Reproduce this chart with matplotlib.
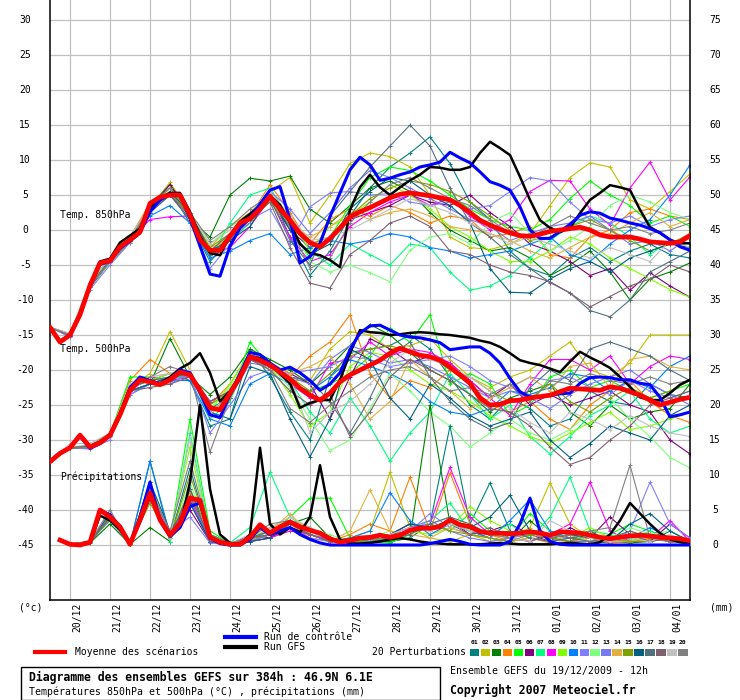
import matplotlib
matplotlib.use("Agg")
import matplotlib.pyplot as plt
from matplotlib.patches import Rectangle
from matplotlib.lines import Line2D
from matplotlib.transforms import blended_transform_factory as btf

# ---------------- data ----------------
hours6 = list(range(0, 385, 6))      # 65 steps
hours12 = list(range(0, 385, 12))    # 33 steps
prec_hours6 = hours6[1:]
prec_hours12 = hours12[1:]

dates = ["20/12", "21/12", "22/12", "23/12", "24/12", "25/12", "26/12", "27/12",
         "28/12", "29/12", "30/12", "31/12", "01/01", "02/01", "03/01", "04/01"]
date_hours = [12 + 24 * k for k in range(16)]

left_ticks = [30, 25, 20, 15, 10, 5, 0, -5, -10, -15, -20, -25, -30, -35, -40, -45]
right_ticks = [75, 70, 65, 60, 55, 50, 45, 40, 35, 30, 25, 20, 15, 10, 5, 0]

t850_mean = [-13.9, -16, -15, -12.1, -7.9, -4.7, -4.4, -2.4, -1.4, -0.3,
             3.8, 4.7, 5.0, 5.0, 2.1, -1.4, -2.9, -2.9, -0.9, 1.0,
             1.6, 3.0, 4.8, 3.0, 1.4, -0.5, -1.8, -2.4, -1.2, 0.3,
             1.9, 2.6, 3.2, 3.9, 4.6, 5.1, 5.3, 5.1, 4.9, 4.6,
             4.3, 3.5, 2.5, 1.4, 0.7, 0.1, -0.4, -0.8, -0.9, -0.6,
             -0.2, 0.0, 0.2, 0.4, 0.0, -0.7, -1.0, -1.0, -1.0, -1.3,
             -1.7, -1.8, -1.9, -1.7, -0.8]
t850_ctrl = [-13.9, -16, -15, -12, -8, -4.9, -4.5, -2.6, -1.6, -0.4,
             2.6, 4.3, 5.1, 5.0, 1.7, -2.3, -6.3, -6.6, -2.3, 0.3,
             1.7, 3.7, 5.7, 6.2, 1.5, -4.7, -3.8, -1.9, 1.9, 5.3,
             8.6, 10.4, 9.3, 7.1, 7.4, 7.9, 8.3, 9.0, 9.3, 9.7,
             11.1, 10.3, 9.6, 8.3, 6.9, 6.4, 5.7, 3.3, 0.0, -1.2,
             -1.2, -0.2, 0.8, 2.1, 2.6, 2.4, 1.7, 1.4, 1.0, 0.7,
             0.2, -0.4, -1.4, -2.4, -2.9]
t850_gfs = [-13.9, -16, -15, -12, -7.8, -4.5, -4.1, -1.8, -0.8, 0.2,
            3.1, 4.6, 5.3, 5.3, 2.6, -0.9, -3.3, -3.6, -0.8, 1.2,
            2.3, 3.5, 4.9, 3.6, 1.0, -2.0, -3.3, -3.6, -4.3, -5.3,
            2.9, 6.1, 7.9, 6.1, 5.0, 6.1, 7.1, 7.9, 9.0, 8.9,
            8.6, 8.6, 9.0, 11.0, 12.6, 11.7, 10.7, 7.6, 4.3, 1.4,
            0.3, -0.3, 0.3, 2.4, 4.3, 5.3, 6.4, 6.1, 5.7, 2.9,
            0.4, -0.4, -1.4, -1.9, -1.9]

t500_mean = [-33.1, -31.9, -31.1, -29.3, -31, -30.4, -29.3, -26.4, -22.9, -21.4,
             -21.7, -22.1, -21.4, -20.3, -20.7, -22.9, -25.4, -25.7, -23.3, -21,
             -18.1, -18.6, -19.3, -20.3, -21.3, -22.6, -23.6, -24.3, -23.3, -21.7,
             -20.7, -20, -19.3, -18.6, -17.6, -16.9, -17.4, -17.9, -18.1, -18.6,
             -19.6, -20.7, -21.9, -24, -25, -24.9, -24.4, -24.3, -24, -23.8,
             -23.6, -23.1, -22.6, -22.7, -22.8, -22.9, -22.4, -22.6, -23.1, -23.6,
             -24.3, -25, -24.6, -24.2, -23.9]
t500_ctrl = [-33.1, -31.9, -31.1, -29.5, -31.2, -30.5, -29.4, -26.3, -22.5, -21,
             -21.5, -22, -21.3, -20, -20.4, -23.2, -26.4, -26.8, -23.5, -20.5,
             -17.5, -17.8, -19, -20, -19.6, -20.4, -21.5, -22.9, -22, -20.4,
             -17.1, -14.7, -13.7, -13.6, -14.3, -15, -15.3, -15.4, -15.7, -16.1,
             -17.1, -16.9, -16.7, -16.7, -17.6, -19, -21.2, -23.1, -23.9, -23.8,
             -23.6, -23.4, -23.3, -21.9, -21.1, -21, -21.1, -21.4, -21.4, -21.9,
             -22.1, -23.9, -26.7, -26.4, -26]
t500_gfs = [-33.1, -31.9, -31.1, -29.3, -30.9, -30.3, -29.2, -26.2, -22.7, -21.2,
            -21.5, -21.9, -21, -19.8, -19, -17.6, -20.4, -24.5, -23, -20.8,
            -18, -18.3, -19.2, -20.5, -21.9, -25.4, -24.7, -24.3, -24.3, -21.4,
            -17.6, -14.3, -14.6, -14.7, -15, -14.9, -14.7, -14.6, -14.7, -14.9,
            -15, -15.2, -15.4, -15.8, -16.1, -16.7, -17.6, -18.6, -19, -19.3,
            -19.8, -20.3, -18.8, -17.4, -18.2, -18.9, -19.7, -21, -22.4, -23.9,
            -24.3, -24.3, -23.3, -22.1, -21.4]

prec_mean = [0.7, 0.1, 0, 0.4, 5, 4, 2.6, 0.1, 3.6, 7.4,
             3.6, 1.4, 3.1, 6.7, 6.4, 1.1, 0.4, 0.1, 0.1, 1.1,
             2.9, 1.7, 2.6, 3.3, 2.6, 2.1, 1.7, 0.9, 0.4, 0.7,
             1, 1.1, 1.4, 1.1, 1.4, 2.1, 2.4, 2.4, 2.6, 3.6,
             2.9, 2.6, 1.9, 1.7, 1.7, 1.6, 1.7, 1.9, 1.7, 1.4,
             1.9, 1.8, 1.7, 1.4, 1.1, 0.9, 1.1, 1.3, 1.4, 1.3,
             1.1, 1.0, 0.9, 0.6]
prec_gfs = [0.7, 0.1, 0, 0.3, 4.2, 3.5, 2.2, 0.1, 3.3, 7,
            3.8, 1.6, 2.5, 9, 20, 8, 1.5, 0.3, 0, 1.5,
            13.9, 3, 1.5, 2.5, 1.8, 4, 11.4, 4, 0.8, 0.2,
            0.2, 0.3, 0.5, 0.8, 1, 0.8, 0.5, 0.3, 0.2, 0.1,
            0.1, 0.1, 0.1, 0.2, 0.3, 0.2, 0.1, 0.1, 0.1, 0.1,
            0.2, 0.3, 0.2, 0.1, 0.4, 1.5, 3.5, 6, 4.5, 3,
            1.7, 0.8, 0.4, 0.2]
prec_ctrl = [0.7, 0.1, 0, 0.3, 5, 4.3, 2.5, 0.1, 4, 9,
             3.5, 1.2, 2.5, 5.5, 6, 1, 0.2, 0, 0, 0.8,
             2.5, 1.5, 2, 2.5, 1.5, 0.8, 0.3, 0, 0, 0,
             0, 0, 0, 0, 0, 0, 0, 0.2, 0.5, 0.8,
             0.5, 0.1, 0, 0, 0, 0.5, 3, 6.7, 2, 0.5,
             0.1, 0, 0, 0, 0, 0, 0, 0, 0, 0,
             0, 0, 0, 0]

pert_colors = ["#008080", "#c0c000", "#008000", "#ff8000", "#00ff00", "#800080",
               "#00ff80", "#ff00ff", "#80ff00", "#0080ff", "#8080ff", "#80ff80",
               "#7878f0", "#e0b040", "#80a000", "#006080", "#507080", "#806070",
               "#c0c0c0", "#808080"]

pert_850 = [
    [-13.9,-15.2,-8.2,-4.6,-1.8,2.5,5.5,1.0,-4.5,-1.5,2.0,5.5,-1.0,-6.5,-3.0,2.0,6.0,9.0,11.0,13.3,9.5,4.0,1.5,-3.0,-5.5,-6.5,-4.0,-2.5,-4.5,-3.0,-2.0,-3.5,-4.0],
    [-13.9,-15,-7.7,-4.2,-1.2,3.2,6.8,2.5,-2.5,0.5,2.5,5.5,7.5,1.0,5.0,9.5,11.0,10.5,9.0,5.0,-1.0,-2.5,-2.8,-2.0,-0.5,3.5,7.5,9.6,9.0,4.3,3.0,5.5,8.0],
    [-13.9,-15,-7.5,-4.0,-1.0,3.5,6.5,1.5,-1.0,5.0,7.4,7.0,7.7,3.0,1.0,3.5,6.0,7.0,5.5,2.5,0.0,-1.5,-3.0,-2.5,-4.0,-6.5,-5.0,-3.0,-6.0,-10.0,-7.0,-6.0,-4.7],
    [-13.9,-14.8,-7.6,-4.3,-1.0,3.8,6.0,2.5,-3.5,-0.5,2.0,6.5,2.5,-2.0,1.5,3.0,2.0,3.5,2.5,1.0,2.0,1.5,-1.0,-0.5,0.5,-3.5,-4.0,-1.0,0.0,2.5,3.0,2.0,1.5],
    [-13.9,-15,-8.0,-4.5,-1.6,2.8,5.5,2.0,-3.0,-1.5,1.0,4.5,0.5,-4.0,-1.0,3.5,7.5,9.0,8.5,7.0,5.0,3.0,1.5,0.5,0.0,1.5,4.5,7.0,5.0,3.5,1.0,2.0,0.5],
    [-13.9,-15.1,-8.1,-4.5,-1.3,3.0,6.5,2.5,-3.0,-1.0,1.5,4.5,0.0,-2.5,-1.5,1.5,2.5,3.5,5.0,4.0,3.5,5.0,2.5,0.5,-2.0,-3.0,-4.5,-6.5,-5.5,-8.6,-6.1,-8.0,-9.6],
    [-13.9,-15,-7.8,-4.3,-1.5,2.6,5.0,1.5,-4.0,1.0,5.0,6.0,1.5,-3.0,-5.0,-2.0,-3.5,-5.0,-2.0,-2.5,-6.0,-8.6,-8.0,-6.5,-4.0,-1.5,0.5,2.0,1.0,-1.0,-3.5,-1.5,-2.0],
    [-13.9,-15,-7.9,-4.4,-1.4,1.5,1.9,2.0,-3.5,-2.5,0.5,4.5,-1.0,-4.5,-3.5,0.5,2.5,4.0,5.0,3.5,4.5,2.0,0.0,1.5,5.5,7.1,7.0,3.0,0.7,6.0,9.7,4.3,7.6],
    [-13.9,-15,-8.0,-4.6,-1.7,3.0,6.0,2.0,-3.5,-0.5,2.5,5.0,2.0,-3.0,0.5,2.0,4.0,6.5,5.0,3.0,0.5,-1.0,-3.0,-4.5,-4.5,-3.0,-1.0,-2.0,-4.0,-5.5,-7.0,-8.5,-9.6],
    [-13.9,-15,-7.9,-4.4,-1.5,2.0,3.5,1.0,-4.0,-3.0,-1.5,-0.5,-3.5,-2.5,-1.5,-2.0,-1.5,-0.5,-1.0,-2.5,-3.0,-4.0,-3.5,-3.0,-2.0,-1.0,-3.5,-4.5,-2.0,0.0,1.5,5.0,9.3],
    [-13.9,-15.3,-8.5,-5.0,-1.8,2.5,5.0,1.5,-5.5,-2.0,1.5,3.0,-2.0,3.3,5.3,5.5,5.0,5.2,4.0,3.5,4.0,3.0,3.5,5.5,7.5,7.0,4.0,1.5,1.0,2.0,0.5,1.5,2.0],
    [-13.9,-15,-7.8,-4.3,-1.4,3.2,5.5,2.3,-2.0,0.5,2.0,4.0,1.0,-4.5,-6.0,-5.0,-6.1,-7.4,-2.9,-1.0,-0.5,-2.0,1.0,2.5,-0.5,-3.0,-1.5,0.5,3.5,5.0,4.0,2.5,1.5],
    [-13.9,-15,-7.9,-4.5,-1.5,3.0,5.0,2.5,-3.5,-1.0,1.0,5.5,3.0,-0.5,2.5,6.0,8.5,7.5,6.0,4.5,3.0,1.5,0.5,-1.5,-0.5,0.5,1.0,2.0,0.0,-2.0,-1.5,-3.0,-1.0],
    [-13.9,-14.9,-7.8,-4.2,-1.2,3.5,5.5,2.0,-2.5,-1.5,1.5,4.5,1.0,-1.0,0.5,2.5,1.5,2.5,3.0,2.0,0.5,0.0,-0.5,-1.5,-3.0,-4.0,-2.5,-1.0,-0.5,1.0,2.5,0.5,1.5],
    [-13.9,-15,-8.0,-4.4,-1.3,3.0,5.5,2.0,-2.5,-0.5,1.5,4.0,0.5,-2.0,-1.0,2.0,4.5,6.0,7.0,6.5,5.5,4.0,2.0,0.0,-1.5,-1.0,0.5,1.5,0.0,-1.5,-3.0,-2.0,-0.5],
    [-13.9,-15,-7.9,-4.3,-1.3,3.0,5.5,2.5,-3.0,-1.5,0.5,5.0,0.0,-3.5,-2.0,3.0,5.5,7.5,7.0,5.0,3.5,1.0,-5.5,-8.9,-9.0,-7.0,-5.5,-4.5,-6.0,-4.0,-3.0,-2.0,-2.5],
    [-13.9,-15,-7.9,-4.4,-1.5,2.5,5.0,1.5,-3.5,-1.0,2.0,4.5,-1.5,-5.0,2.0,5.5,9.0,12.0,15.0,12.0,6.0,1.0,-1.0,-3.5,-5.5,-7.5,-9.0,-11.5,-12.4,-10.0,-6.0,-4.5,-3.0],
    [-13.9,-15,-7.9,-4.4,-1.4,3.0,5.0,2.0,-3.0,-0.5,1.5,4.0,-2.5,-7.6,-8.3,-3.5,-1.5,1.0,2.0,0.5,-3.0,-3.5,-5.0,-6.0,-6.5,-7.4,-9.0,-11.0,-9.5,-8.0,-7.0,-5.0,-6.0],
    [-13.9,-14.8,-7.5,-4.0,-1.0,3.5,6.0,2.5,-2.0,0.0,2.5,5.5,2.0,-1.5,-1.0,0.0,1.5,3.0,4.5,3.5,2.5,1.0,-0.5,-2.0,-1.0,-2.0,-3.0,-4.0,-2.5,-3.5,-4.5,-1.5,-2.5],
    [-13.9,-15,-7.9,-4.5,-1.6,3.5,6.0,2.5,-1.5,0.5,3.0,5.0,0.5,-5.5,-4.0,1.0,4.0,6.5,7.5,6.0,4.5,3.5,1.5,-0.5,-1.0,0.5,2.0,1.0,0.0,0.5,-0.5,0.0,1.0],
]

pert_500 = [
    [-33.1,-31.0,-30.8,-29.0,-22.5,-21.5,-20.5,-21.5,-28.0,-27.0,-17.0,-21.0,-26.0,-30.0,-21.0,-17.5,-17.0,-16.5,-15.0,-17.0,-21.0,-25.0,-27.0,-24.0,-25.5,-28.0,-27.0,-23.0,-24.5,-25.0,-22.0,-23.5,-24.0],
    [-33.1,-31.2,-31.0,-29.5,-22.5,-20.5,-14.5,-20.0,-26.0,-24.0,-18.5,-20.0,-21.5,-21.5,-17.0,-14.5,-15.0,-17.0,-16.5,-15.5,-18.5,-21.0,-22.5,-21.0,-20.0,-18.0,-16.0,-20.0,-21.0,-19.0,-15.0,-15.0,-15.0],
    [-33.1,-31.1,-31.2,-29.3,-23.0,-22.0,-15.5,-21.0,-23.5,-21.0,-17.0,-18.5,-20.0,-22.0,-19.5,-16.5,-13.5,-15.0,-17.5,-20.0,-21.5,-23.5,-26.0,-24.0,-23.0,-22.0,-26.0,-28.0,-25.0,-27.0,-26.0,-25.5,-22.0],
    [-33.1,-31.0,-30.9,-29.1,-21.5,-18.5,-20.5,-21.0,-25.0,-22.0,-17.5,-19.0,-21.0,-18.0,-16.0,-12.1,-20.5,-24.0,-21.5,-22.5,-20.0,-22.0,-25.0,-26.0,-24.5,-27.0,-28.5,-25.0,-23.0,-21.5,-24.5,-26.5,-27.5],
    [-33.1,-31.1,-31.0,-29.2,-21.0,-21.0,-21.5,-20.5,-25.5,-24.0,-16.0,-19.5,-22.0,-23.0,-22.0,-20.5,-18.0,-14.0,-16.0,-12.1,-22.0,-20.5,-22.0,-26.5,-25.0,-21.0,-20.0,-22.5,-21.5,-23.0,-24.0,-23.0,-22.0],
    [-33.1,-31.2,-31.1,-29.3,-23.0,-22.0,-21.0,-20.5,-24.5,-23.0,-18.5,-19.0,-20.5,-22.0,-27.0,-21.0,-15.5,-17.0,-19.0,-18.0,-19.0,-21.5,-24.0,-22.0,-25.0,-23.5,-25.0,-24.0,-23.0,-25.0,-26.0,-30.0,-32.0],
    [-33.1,-31.1,-31.0,-29.4,-23.0,-22.0,-21.5,-20.5,-27.0,-24.5,-17.5,-19.5,-21.5,-26.0,-29.0,-24.0,-28.0,-33.0,-29.0,-26.0,-20.5,-23.5,-27.0,-25.0,-29.5,-32.0,-29.5,-26.5,-25.0,-23.0,-27.0,-29.0,-28.0],
    [-33.1,-31.0,-31.0,-29.4,-23.0,-21.0,-21.5,-21.0,-24.5,-23.0,-18.5,-19.5,-22.0,-24.0,-19.0,-18.5,-16.0,-18.0,-17.0,-17.5,-19.0,-21.5,-24.0,-26.5,-22.0,-18.5,-18.5,-20.0,-18.0,-22.0,-19.5,-18.0,-18.5],
    [-33.1,-31.1,-31.1,-29.2,-22.5,-21.5,-20.5,-20.5,-26.0,-22.0,-17.5,-19.5,-23.5,-28.0,-26.0,-19.5,-17.5,-18.0,-20.0,-22.0,-23.0,-24.5,-26.5,-28.0,-29.5,-30.5,-29.0,-27.5,-26.0,-28.5,-28.0,-27.0,-26.0],
    [-33.1,-31.1,-31.0,-29.3,-23.5,-22.0,-21.5,-21.5,-27.0,-28.0,-22.0,-20.5,-22.0,-23.0,-21.0,-18.5,-19.5,-20.5,-22.0,-24.5,-26.0,-26.5,-25.5,-23.0,-23.5,-22.5,-20.5,-21.0,-23.0,-21.5,-22.5,-19.5,-18.0],
    [-33.1,-31.1,-31.3,-30.0,-23.5,-22.0,-22.0,-20.5,-29.0,-25.0,-21.0,-20.0,-20.5,-20.0,-19.5,-18.0,-18.5,-19.5,-19.0,-18.5,-18.0,-19.5,-21.5,-22.5,-21.0,-21.5,-21.0,-22.5,-23.5,-21.5,-23.0,-24.0,-23.0],
    [-33.1,-31.1,-31.0,-29.3,-22.0,-21.5,-21.0,-20.5,-25.5,-22.5,-17.5,-19.5,-22.5,-27.0,-31.5,-30.0,-25.5,-20.5,-23.0,-26.0,-28.0,-31.0,-29.0,-27.0,-29.0,-30.0,-28.5,-26.0,-24.0,-27.0,-29.5,-32.5,-34.0],
    [-33.1,-31.1,-31.0,-29.3,-23.0,-22.0,-21.0,-21.0,-26.0,-24.0,-19.0,-19.5,-21.0,-22.0,-18.5,-16.5,-17.5,-19.0,-18.5,-19.5,-21.0,-22.5,-24.0,-23.0,-24.0,-25.5,-23.5,-22.0,-21.0,-20.0,-22.0,-23.5,-25.0],
    [-33.1,-31.0,-30.9,-29.2,-22.5,-21.0,-20.5,-20.0,-26.5,-23.5,-18.0,-19.0,-20.5,-19.5,-18.0,-22.0,-27.0,-24.5,-18.5,-21.0,-23.0,-25.5,-24.0,-22.5,-21.0,-23.0,-19.5,-19.0,-22.5,-18.5,-18.0,-19.5,-20.0],
    [-33.1,-31.1,-31.0,-29.3,-22.5,-21.5,-21.0,-20.5,-25.0,-23.0,-18.0,-19.0,-21.0,-23.0,-20.5,-18.0,-17.0,-16.5,-17.5,-18.0,-20.0,-21.0,-23.0,-24.5,-24.0,-22.0,-24.5,-26.0,-24.0,-22.5,-24.0,-23.0,-21.5],
    [-33.1,-31.1,-31.0,-29.3,-23.0,-22.0,-21.0,-20.5,-26.0,-27.0,-19.5,-20.5,-27.0,-32.4,-27.0,-17.0,-18.5,-24.0,-27.0,-22.0,-24.0,-26.5,-28.0,-27.0,-26.0,-30.0,-32.5,-30.5,-28.0,-29.0,-30.0,-26.5,-25.0],
    [-33.1,-31.1,-31.0,-29.3,-22.5,-21.5,-21.0,-20.5,-25.5,-24.0,-18.5,-19.5,-21.0,-21.5,-24.5,-29.0,-24.0,-18.0,-16.0,-21.0,-24.5,-27.0,-28.5,-27.5,-22.5,-20.0,-21.5,-17.0,-16.0,-17.0,-18.0,-20.0,-21.5],
    [-33.1,-31.1,-31.0,-29.3,-23.0,-22.5,-22.0,-21.0,-24.5,-23.0,-18.5,-20.0,-23.0,-25.0,-23.5,-29.5,-26.0,-21.0,-18.5,-20.0,-21.5,-23.5,-25.5,-26.0,-28.0,-31.0,-33.5,-32.5,-30.0,-28.0,-25.0,-24.0,-23.0],
    [-33.1,-30.5,-30.5,-29.0,-22.0,-21.0,-20.5,-20.0,-26.0,-23.5,-17.5,-19.0,-21.0,-29.0,-26.0,-24.5,-22.0,-19.0,-17.0,-18.5,-19.5,-21.0,-23.0,-25.5,-27.5,-29.0,-26.0,-27.0,-28.5,-26.5,-28.0,-29.0,-29.5],
    [-33.1,-31.2,-31.0,-29.3,-22.5,-21.0,-19.5,-20.5,-31.7,-24.0,-18.0,-20.0,-25.5,-27.5,-25.0,-23.0,-21.0,-20.0,-19.5,-21.0,-23.0,-22.5,-23.5,-22.0,-24.5,-21.5,-22.0,-20.5,-21.5,-22.0,-21.0,-22.0,-21.5],
]

pert_prec = [
    [0.1,0.5,4.0,0.1,12.0,1.0,11.0,1.0,0,0.5,1.5,3.0,1.5,0.5,0.3,0.8,0.5,1.0,3.0,17.0,3.0,8.9,2.0,1.0,0.5,1.5,0.5,0.3,1.0,0.5,2.0,0.5],
    [0.1,0.4,4.2,0.1,7.0,1.5,6.0,0.5,0,1.0,2.0,3.5,2.5,0.5,1.0,2.0,10.4,2.5,1.0,0.5,1.5,0.5,1.0,2.5,8.9,3.0,1.0,0.5,2.0,1.0,0.5,0.3],
    [0.1,0.3,3.0,0.1,2.5,0.5,8.0,1.5,0.2,0.5,1.0,3.0,4.0,1.0,0.5,0.3,0.5,1.0,20.0,3.0,2.0,1.0,0.5,3.5,1.0,0.5,2.0,0.5,0.3,0.5,1.0,0.5],
    [0.1,0.4,4.5,0.1,6.5,2.0,7.5,1.0,0,0.8,2.5,3.0,1.0,0.5,1.5,3.0,2.0,9.7,2.0,10.3,3.0,1.5,0.5,1.0,0.3,0.5,1.0,0.3,0.5,0.8,0.5,0.3],
    [0.1,0.5,3.5,0.1,8.0,1.0,18.0,2.0,0.2,1.0,1.5,4.0,6.7,6.7,1.0,0.5,0.3,1.5,3.0,2.0,4.5,2.0,1.0,4.5,2.0,1.0,0.5,1.5,3.0,2.0,1.0,0.5],
    [0.1,0.4,4.0,0.1,7.5,1.5,5.0,0.5,0,1.5,1.0,2.5,1.5,0.5,0.5,1.0,1.5,3.0,2.5,3.5,1.5,2.0,3.0,1.5,0.5,2.5,1.0,4.0,1.5,0.5,3.0,1.0],
    [0.1,0.3,4.5,0.1,9.0,0.5,16.0,1.5,0.3,2.5,10.4,4.0,2.0,0.5,1.0,0.5,1.0,2.0,3.5,6.0,2.0,1.5,3.0,1.0,4.0,9.7,2.0,1.5,0.8,2.0,1.0,0.4],
    [0.1,0.4,3.8,0.1,7.0,1.0,6.5,0.5,0.1,0.5,1.0,2.0,1.5,0.8,0.5,1.0,1.5,2.5,3.0,11.1,4.0,1.5,1.0,0.5,1.5,3.0,9.0,2.0,0.5,1.0,3.5,0.5],
    [0.1,0.5,4.2,0.1,8.5,1.5,14.0,1.0,0.1,1.0,2.0,3.0,2.0,1.0,0.5,0.8,1.0,2.0,1.5,2.5,5.5,3.5,2.0,1.0,0.5,1.0,2.5,1.0,0.5,1.5,0.5,0.3],
    [0.1,0.4,4.5,0.1,12.0,1.5,7.0,0.5,0,0.8,2.0,3.0,2.5,0.5,1.0,2.0,7.5,3.5,1.5,3.0,2.0,1.0,3.5,6.5,2.0,1.0,1.5,0.5,1.0,2.5,1.0,0.3],
    [0.1,0.6,3.5,0.1,6.5,2.0,4.0,0.3,0,0.5,1.5,2.5,1.0,0.5,0.5,0.8,1.0,2.0,4.5,2.5,1.5,1.0,0.5,1.0,0.5,1.0,1.5,0.5,2.0,9.0,3.0,1.0],
    [0.1,0.4,4.0,0.1,7.0,1.0,9.0,1.0,0.1,1.0,2.5,3.5,2.0,1.5,0.5,1.0,2.0,1.5,3.0,4.0,2.0,1.5,1.0,2.0,1.0,1.5,0.5,1.0,2.5,1.5,2.0,0.5],
    [0.1,0.5,4.0,0.1,8.0,1.5,6.0,0.5,0,0.5,1.5,2.5,1.5,0.5,0.5,1.0,1.5,2.5,3.5,2.0,1.0,0.5,1.0,1.5,1.0,0.5,0.5,1.0,1.5,1.0,0.5,0.3],
    [0.1,0.4,4.5,0.1,7.0,1.5,7.0,1.0,0.1,1.0,2.0,4.5,1.5,0.5,2.0,7.9,2.0,1.5,1.0,2.5,1.5,1.0,0.5,1.0,0.5,1.5,1.0,0.5,0.5,1.0,0.5,0.3],
    [0.1,0.4,3.8,0.1,6.0,1.0,10.0,1.5,0.2,0.8,1.5,3.0,2.5,1.0,0.5,0.5,1.0,2.0,3.0,2.0,1.5,1.0,0.5,1.5,1.0,0.5,1.5,1.0,0.5,0.5,1.0,0.5],
    [0.1,0.5,4.5,0.1,9.0,2.0,6.0,0.5,0,0.5,1.0,3.5,2.0,1.0,0.5,1.0,1.5,3.0,2.5,3.5,2.5,4.0,7.1,2.0,1.0,1.5,1.0,0.5,3.0,4.5,2.0,0.5],
    [0.1,0.4,4.0,0.1,7.5,1.0,8.0,0.5,0,1.0,2.0,3.0,1.5,0.5,1.0,0.5,0.8,1.5,3.0,4.0,3.0,1.5,2.0,1.0,0.5,1.0,1.5,1.0,2.0,1.0,0.5,0.3],
    [0.1,0.4,4.0,0.1,6.5,1.5,7.0,1.0,0.1,1.0,1.5,2.5,1.5,0.5,0.5,1.0,1.5,2.0,2.5,3.0,1.5,2.5,1.0,0.5,1.5,1.0,0.5,1.0,1.5,0.5,1.0,0.5],
    [0.1,0.5,5.0,0.1,7.0,1.0,15.4,1.0,0.2,1.5,2.5,4.0,2.5,1.0,0.5,1.0,1.5,2.5,2.0,3.0,2.0,1.5,1.0,0.5,3.5,2.0,1.0,0.5,1.0,0.5,1.5,0.3],
    [0.1,0.5,5.0,0.1,8.0,2.0,12.0,1.5,0.3,1.0,3.0,3.5,2.0,1.0,0.5,0.8,1.0,2.0,2.5,3.5,2.5,1.5,1.0,2.0,1.0,1.5,2.0,2.5,11.4,1.0,0.5,0.3],
]

# ---------------- figure ----------------
W, H = 740, 700
MONO = "DejaVu Sans Mono"
plt.rcParams["font.family"] = [MONO, "DejaVu Sans"]

fig = plt.figure(figsize=(W / 100, H / 100), dpi=100)
fig.patch.set_facecolor("white")
ax = fig.add_axes([50 / W, 100 / H, 640 / W, 600 / H])
ax.set_xlim(0, 384)
ax.set_ylim(-370 / 7, 230 / 7)
ax2 = ax.twinx()
ax2.set_ylim(-370 / 7 + 45, 230 / 7 + 45)
ax2.set_xlim(0, 384)
ax2.patch.set_visible(False)

for a in (ax, ax2):
    a.set_xticks([])
    a.set_yticks([])
    for s in a.spines.values():
        s.set_visible(False)
ax.spines["left"].set_visible(True)
ax.spines["right"].set_visible(True)
ax.spines["bottom"].set_visible(True)
for s in ("left", "right", "bottom"):
    ax.spines[s].set_linewidth(1.1)
    ax.spines[s].set_color("black")

GRID = "#c0c0c0"
for v in left_ticks:
    ax.axhline(v, color=GRID, lw=0.9, zorder=0)
for h in date_hours:
    ax.axvline(h, color=GRID, lw=0.9, zorder=0)

# tick labels
tl = btf(ax.transAxes, ax.transData)
for v in left_ticks:
    ax.text(-25 / 640, v, str(v), transform=tl, ha="center", va="center",
            fontsize=7, family=MONO, clip_on=False)
tr = btf(ax2.transAxes, ax2.transData)
for v in right_ticks:
    ax2.text(1 + 25 / 640, v, str(v), transform=tr, ha="center", va="center",
             fontsize=7, family=MONO, clip_on=False)
tb = btf(ax.transData, ax.transAxes)
for h, d in zip(date_hours, dates):
    ax.text(h + 4.3, -3 / 600, d, transform=tb, rotation=90, ha="center", va="top",
            fontsize=7, family=MONO, clip_on=False)

# perturbations
mk = dict(marker="+", markersize=3, markeredgewidth=0.7)
for c, s850, s500, sp in zip(pert_colors, pert_850, pert_500, pert_prec):
    ax.plot(hours12, s850, color=c, lw=0.8, zorder=2, **mk)
    ax.plot(hours12, s500, color=c, lw=0.8, zorder=2, **mk)
    ax2.plot(prec_hours12, sp, color=c, lw=0.8, zorder=2, **mk)

# GFS, control, mean
ax.plot(hours6, t850_gfs, color="black", lw=1.8, zorder=3)
ax.plot(hours6, t500_gfs, color="black", lw=1.8, zorder=3)
ax2.plot(prec_hours6, prec_gfs, color="black", lw=1.8, zorder=3)
ax.plot(hours6, t850_ctrl, color="#0000ff", lw=2.2, zorder=4)
ax.plot(hours6, t500_ctrl, color="#0000ff", lw=2.2, zorder=4)
ax2.plot(prec_hours6, prec_ctrl, color="#0000ff", lw=2.2, zorder=4)
ax.plot(hours6, t850_mean, color="#ff0000", lw=3.4, zorder=5)
ax.plot(hours6, t500_mean, color="#ff0000", lw=3.4, zorder=5)
ax2.plot(prec_hours6, prec_mean, color="#ff0000", lw=3.4, zorder=5)

# labels inside plot
ta = btf(ax.transAxes, ax.transAxes)
def inplot(xpx, ypx, s):
    ax2.text((xpx - 50) / 640, 1 - ypx / 600, s, transform=ax.transAxes, ha="left",
             va="center", fontsize=7, family=MONO, zorder=10)
inplot(60, 215, "Temp. 850hPa")
inplot(60, 349, "Temp. 500hPa")
inplot(60, 477, "Précipitations")

# ---------------- bottom area ----------------
def ftext(xpx, ypx, s, **kw):
    kw.setdefault("fontsize", 7)
    kw.setdefault("family", MONO)
    kw.setdefault("va", "center")
    kw.setdefault("ha", "left")
    fig.text(xpx / W, 1 - ypx / H, s, **kw)

def fline(x1, x2, ypx, color, lw):
    fig.add_artist(Line2D([x1 / W, x2 / W], [1 - ypx / H, 1 - ypx / H],
                          transform=fig.transFigure, color=color, lw=lw))

ftext(31, 607, "(°c)", ha="center")
ftext(722, 607, "(mm)", ha="center")

fline(225, 256, 637, "#0000ff", 3.0)
ftext(264, 637, "Run de contrôle")
fline(225, 256, 647, "black", 3.0)
ftext(264, 647, "Run GFS")
fline(35, 65, 652, "#ff0000", 3.0)
ftext(75, 652, "Moyenne des scénarios")
ftext(466, 652, "20 Perturbations", ha="right")

cell = 10.95
for i, c in enumerate(pert_colors):
    x0 = 470 + i * cell
    fig.add_artist(Rectangle((x0 / W, 1 - 655.5 / H), 9.5 / W, 6.5 / H,
                             transform=fig.transFigure, facecolor=c, edgecolor="none"))
    ftext(x0 + 4.75, 642, "%02d" % (i + 1), ha="center", fontsize=4.6, weight="bold")

fig.add_artist(Rectangle((20.5 / W, 1 - 699.5 / H), 419.5 / W, 32.5 / H,
                         transform=fig.transFigure, facecolor="none",
                         edgecolor="black", lw=1.0))
ftext(29, 677.5, "Diagramme des ensembles GEFS sur 384h : 46.9N 6.1E",
      fontsize=8.3, weight="bold")
ftext(29, 691.5, "Températures 850hPa et 500hPa (°C) , précipitations (mm)",
      fontsize=7.1)
ftext(450, 671, "Ensemble GEFS du 19/12/2009 - 12h", fontsize=7.1)
ftext(450, 690, "Copyright 2007 Meteociel.fr", fontsize=8.3, weight="bold")

fig.savefig("out.png", dpi=100, facecolor="white")
